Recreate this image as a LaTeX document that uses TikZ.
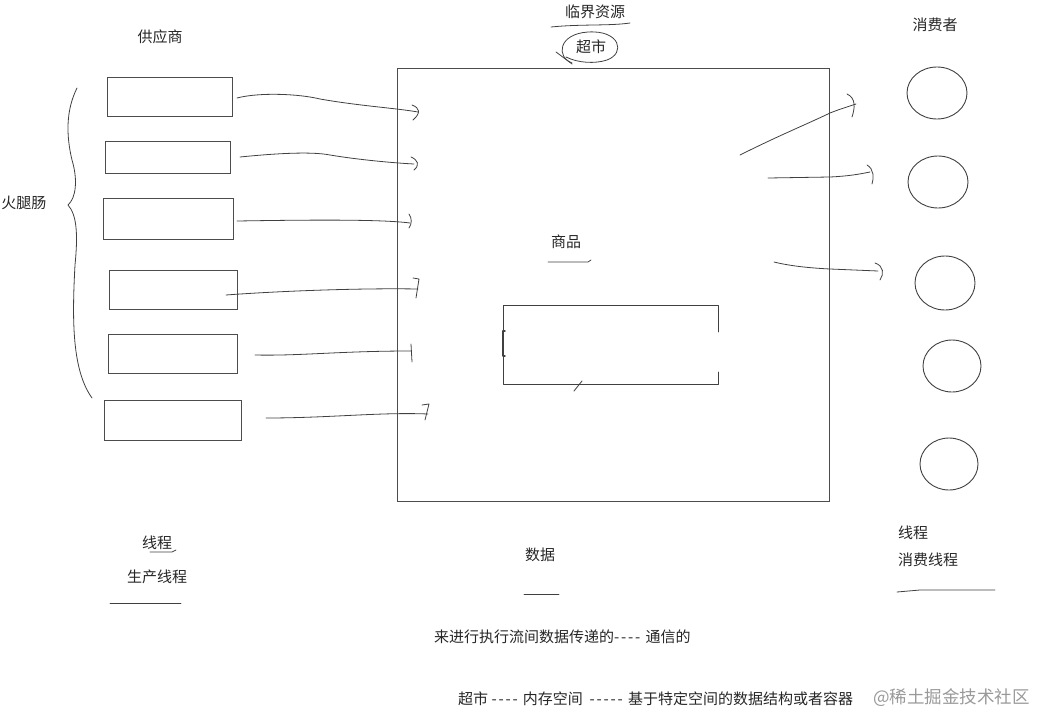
\documentclass[tikz,border=0pt]{standalone}
\usepackage{fontspec}
\setmainfont{Noto Sans CJK SC}
\usetikzlibrary{shapes.geometric}
\newcommand\hy{\mbox{-}\kern1.8pt}
\begin{document}
\begin{tikzpicture}[x=1pt,y=-1pt,
  every node/.style={font=\fontsize{15}{17}\selectfont, text=black!85},
  frame/.style={draw=black!70, line width=0.9pt},
  sbox/.style={draw=black!70, line width=0.9pt, minimum width=#1, inner sep=0pt, minimum height=39pt},
  hand/.style={draw=black!75, line width=0.8pt, line cap=round, line join=round},
  cons/.style={draw=black!75, line width=0.9pt, ellipse, inner sep=0pt, minimum width=60pt, minimum height=52pt},
  lbl/.style={inner sep=1pt}
]
\useasboundingbox (0,0) rectangle (1039,715);

% titles
\node[lbl] (crit) at (595,12) {临界资源};
\node[lbl] (shi) at (591,47) {超市};
\node[lbl] (gys) at (160,37) {供应商};
\node[lbl] (xfz) at (935,25) {消费者};
\node[lbl] (htc) at (24,203) {火腿肠};
\node[lbl] (sp) at (566,242) {商品};

\draw[hand] (551,27) .. controls (580,24) and (610,26) .. (630,23);
\draw[hand] (572,63) .. controls (556,57) and (558,34) .. (588,32)
  .. controls (620,30) and (626,53) .. (607,60) .. controls (595,64) and (578,63) .. (566,57);
\draw[hand] (556,52) -- (572,64);

% big rectangle
\node[frame, minimum width=432pt, minimum height=433pt, inner sep=0pt] (market) at (613,284.5) {};

% supplier boxes
\node[sbox=125pt, minimum height=39pt] (b1) at (169.5,96.5) {};
\node[sbox=125pt, minimum height=32pt] (b2) at (167.5,157) {};
\node[sbox=130pt, minimum height=41pt] (b3) at (168,218.5) {};
\node[sbox=128pt, minimum height=39pt] (b4) at (173,289.5) {};
\node[sbox=129pt, minimum height=39pt] (b5) at (172.5,353.5) {};
\node[sbox=137pt, minimum height=40pt] (b6) at (172.5,420) {};

% brace
\draw[hand] (77,88) .. controls (66,110) and (66,135) .. (72,160)
  .. controls (78,180) and (76,198) .. (68,205)
  .. controls (77,215) and (78,235) .. (75,265)
  .. controls (72,320) and (72,370) .. (92,398);

% supplier -> market lines
\coordinate (s1) at (237,98);  \coordinate (e1) at (418,112);
\coordinate (s2) at (240,157); \coordinate (e2) at (414,164);
\coordinate (s3) at (237,221); \coordinate (e3) at (410,223);
\coordinate (s4) at (226,295); \coordinate (e4) at (418,289);
\coordinate (s5) at (255,355); \coordinate (e5) at (411,351);
\coordinate (s6) at (266,418); \coordinate (e6) at (428,414);

\draw[hand] (s1) .. controls (260,92) and (300,94) .. (320,99) .. controls (360,106) and (395,108) .. (e1);
\draw[hand] (412,105) .. controls (420,108) and (421,113) .. (413,120);
\draw[hand] (s2) .. controls (270,154) and (310,151) .. (330,155) .. controls (360,160) and (395,163) .. (e2);
\draw[hand] (411,157) .. controls (418,160) and (420,165) .. (414,170);
\draw[hand] (s3) .. controls (300,220) and (380,219) .. (e3);
\draw[hand] (409,214) .. controls (412,218) and (412,224) .. (409,228);
\draw[hand] (s4) .. controls (280,291) and (360,288) .. (e4);
\draw[hand] (413,278) -- (419,279) -- (416,298);
\draw[hand] (s5) .. controls (300,356) and (340,351) .. (e5);
\draw[hand] (411,344) -- (412,362);
\draw[hand] (s6) .. controls (330,418) and (380,412) .. (e6);
\draw[hand] (422,405) -- (429,404) -- (425,420);

% consumers
\node[cons] (c1) at (937,93) {};
\node[cons] (c2) at (938,182) {};
\node[cons, minimum height=54pt] (c3) at (945,283) {};
\node[cons, minimum width=58pt] (c4) at (952,366) {};
\node[cons, minimum width=58pt] (c5) at (949,464) {};

% market -> consumer lines
\coordinate (r1) at (740,155); \coordinate (q1) at (856,104);
\coordinate (r2) at (768,178); \coordinate (q2) at (870,172);
\coordinate (r3) at (774,262); \coordinate (q3) at (878,271);
\draw[hand] (r1) .. controls (780,135) and (805,125) .. (830,113) .. controls (840,109) and (850,106) .. (q1);
\draw[hand] (847,94) .. controls (856,98) and (855,108) .. (852,117);
\draw[hand] (r2) -- (830,177) .. controls (850,176) and (860,174) .. (q2);
\draw[hand] (867,165) .. controls (874,169) and (874,178) .. (872,184);
\draw[hand] (r3) .. controls (790,266) and (810,268) .. (830,269) -- (q3);
\draw[hand] (875,263) .. controls (884,266) and (884,274) .. (880,280);

% inner goods box
\coordinate (g1) at (503,305); \coordinate (g2) at (718,305);
\coordinate (g3) at (718,384); \coordinate (g4) at (503,384);
\draw[hand] (718,332) -- (g2) -- (g1) -- (g4) -- (g3) -- (718,372);
\draw[hand, line width=1.4pt] (505,331) -- (503,331) -- (503,356) -- (505,356);
\draw[hand] (574,391) -- (582,381);
\draw[hand] (548,262) -- (588,262) -- (591,260);

% bottom labels
\node[lbl] (xc1) at (157,543) {线程};
\draw[hand] (150,552) -- (172,552) -- (176,550);
\node[lbl] (scxc) at (157,577) {生产线程};
\draw[hand] (110,603) -- (181,603);

\node[lbl] (sj) at (540,555) {数据};
\draw[hand] (524,594) -- (559,594);

\node[lbl, anchor=west] (xc2) at (897,533) {线程};
\node[lbl, anchor=west] (xfxc) at (897,560) {消费线程};
\draw[hand] (897,592) -- (920,590) -- (995,590);

\node[lbl, anchor=west] (comm) at (433,637) {来进行执行流间数据传递的\hy\hy\hy\hy\ 通信的};
\node[lbl, anchor=west] (mem) at (457,699) {超市 \hy\hy\hy\hy\ 内存空间 \ \hy\hy\hy\hy\hy\ 基于特定空间的数据结构或者容器};
\node[lbl, anchor=west, text=black!40, font=\fontsize{17.5}{19}\selectfont] (wm) at (872,698) {@稀土掘金技术社区};
\end{tikzpicture}
\end{document}
